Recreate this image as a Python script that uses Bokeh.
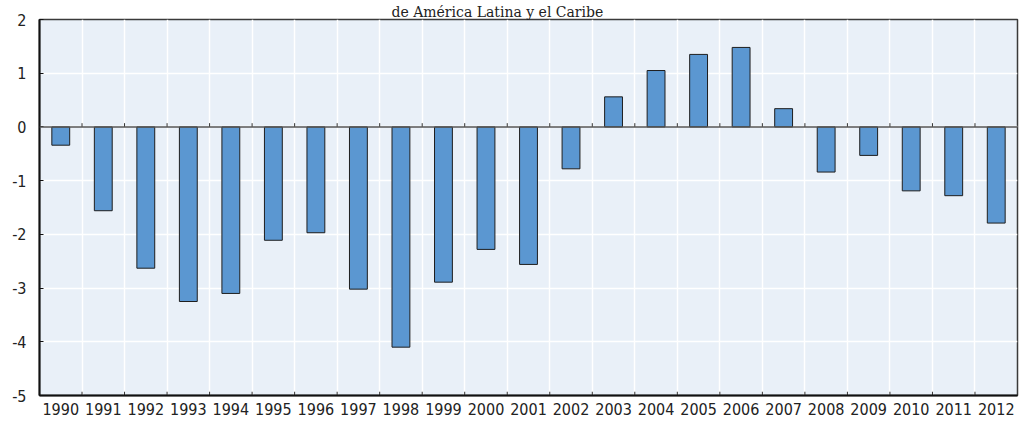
from bokeh.plotting import figure
from bokeh.models import FixedTicker, Span, Title, Range1d
from bokeh.embed import file_html
from bokeh.resources import INLINE

# ---- data ----
years = [str(y) for y in range(1990, 2013)]
values = [-0.34, -1.56, -2.63, -3.25, -3.10, -2.11, -1.97, -3.02, -4.10, -2.89,
          -2.28, -2.56, -0.78, 0.56, 1.05, 1.35, 1.48, 0.34, -0.84, -0.53,
          -1.19, -1.28, -1.79]
y_ticks = [-5, -4, -3, -2, -1, 0, 1, 2]
y_tick_labels = ["-5", "-4", "-3", "-2", "-1", "0", "1", "2"]
title_text = "de América Latina y el Caribe"

n = len(years)
centers = [i + 0.5 for i in range(n)]
bounds = list(range(1, n))

LABEL_FONT = "'DejaVu Sans Condensed', 'Liberation Sans Narrow', 'Roboto Condensed', Roboto, sans-serif"

p = figure(width=1023, height=427, frame_width=978, frame_height=376,
           x_range=Range1d(0, n), y_range=Range1d(y_ticks[0], y_ticks[-1]),
           output_backend="svg", toolbar_location=None,
           min_border_left=39, min_border_right=6, min_border_top=19, min_border_bottom=32)

p.background_fill_color = "#E9F0F8"
p.border_fill_color = "white"
p.outline_line_color = "#3a3a3a"
p.outline_line_width = 1.5

# grid
p.xgrid.ticker = FixedTicker(ticks=bounds)
p.ygrid.ticker = FixedTicker(ticks=y_ticks)
p.grid.grid_line_color = "white"
p.grid.grid_line_width = 1.5

# zero line
p.add_layout(Span(location=0, dimension="width", line_color="#555555", line_width=1.5))

# bars
p.vbar(x=centers, top=values, bottom=0, width=0.42,
       fill_color="#5B97D1", line_color="#1e1e1e", line_width=1)

# small tick marks at category boundaries (on zero line and bottom axis)
tick_len = 0.07
p.segment(x0=bounds, x1=bounds, y0=[0] * len(bounds), y1=[tick_len] * len(bounds),
          line_color="#333333", line_width=1)
p.segment(x0=bounds, x1=bounds, y0=[y_ticks[0]] * len(bounds),
          y1=[y_ticks[0] + tick_len] * len(bounds), line_color="#333333", line_width=1)

# x axis
p.xaxis.ticker = FixedTicker(ticks=centers)
p.xaxis.major_label_overrides = {c: y for c, y in zip(centers, years)}
p.xaxis.major_tick_in = 0
p.xaxis.major_tick_out = 0
p.xaxis.minor_tick_line_color = None
p.xaxis.axis_line_color = "#111111"
p.xaxis.axis_line_width = 2
p.xaxis.major_label_standoff = 7
p.xaxis.major_label_text_font = LABEL_FONT
p.xaxis.major_label_text_font_size = "16px"
p.xaxis.major_label_text_color = "#222222"

# y axis
p.yaxis.ticker = FixedTicker(ticks=y_ticks)
p.yaxis.major_label_overrides = {t: s for t, s in zip(y_ticks, y_tick_labels)}
p.yaxis.major_tick_in = 4
p.yaxis.major_tick_out = 0
p.yaxis.major_tick_line_color = "#111111"
p.yaxis.minor_tick_line_color = None
p.yaxis.axis_line_color = "#111111"
p.yaxis.axis_line_width = 2
p.yaxis.major_label_standoff = 13
p.yaxis.major_label_text_font = LABEL_FONT
p.yaxis.major_label_text_font_size = "16px"
p.yaxis.major_label_text_color = "#222222"

# title
p.add_layout(Title(text=title_text, align="left", offset=352, standoff=0,
                   text_font="DejaVu Serif", text_font_size="14px",
                   text_font_style="normal", text_color="#222222"), "above")

html = file_html(p, INLINE)
html = html.replace("</head>", "<style>html,body{margin:0;padding:0;overflow:hidden}</style></head>", 1)
open("out.html", "w").write(html)
